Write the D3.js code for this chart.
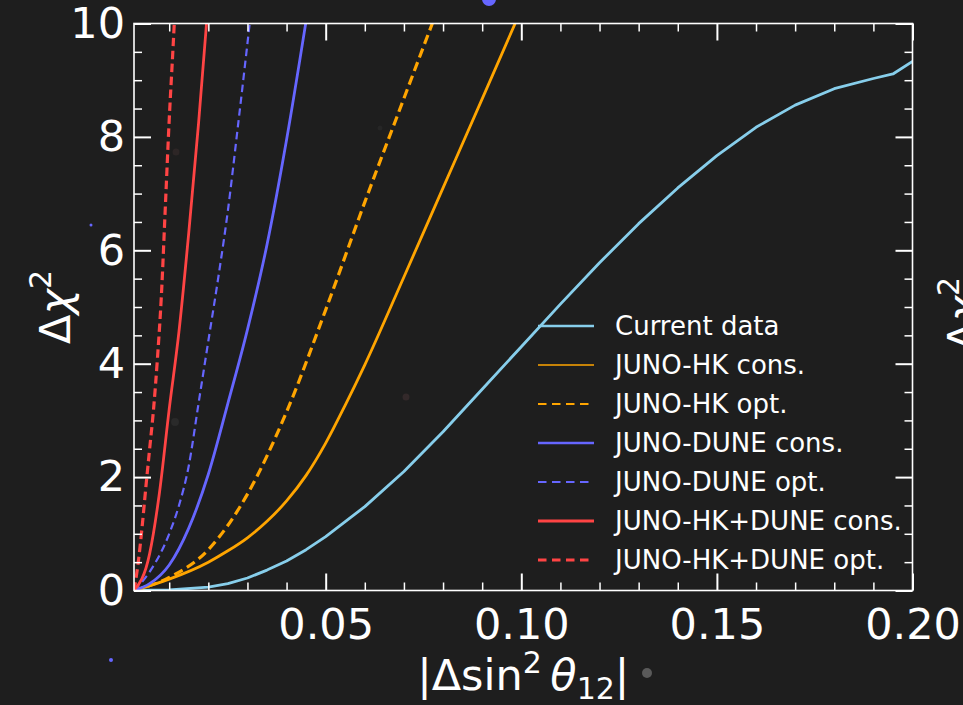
<!DOCTYPE html>
<html>
<head>
<meta charset="utf-8">
<script src="https://cdn.jsdelivr.net/npm/d3@7"></script>
<style>
  html, body { margin: 0; padding: 0; background: #1e1e1e; }
  svg { display: block; }
  text { font-family: "DejaVu Sans", sans-serif; fill: #ffffff; }
</style>
</head>
<body>
<svg id="chart" width="963" height="705"></svg>
<script>
// Δχ² sensitivity curves versus |Δsin²θ12|
const xCurrent = [0.001, 0.01, 0.02, 0.025, 0.03, 0.035, 0.04, 0.045, 0.05, 0.06, 0.07, 0.08, 0.09, 0.10, 0.11, 0.12, 0.13, 0.14, 0.15, 0.16, 0.17, 0.18, 0.19, 0.195, 0.2];
const yCurrent = [0, 0.01, 0.06, 0.12, 0.22, 0.36, 0.52, 0.72, 0.95, 1.48, 2.1, 2.8, 3.55, 4.3, 5.05, 5.78, 6.47, 7.1, 7.67, 8.17, 8.56, 8.85, 9.03, 9.11, 9.33];

const xHKCons = [0.001, 0.01, 0.02, 0.025, 0.03, 0.035, 0.04, 0.045, 0.05, 0.055, 0.06, 0.07, 0.08, 0.09, 0.10];
const yHKCons = [0, 0.2, 0.5, 0.7, 0.93, 1.22, 1.58, 2.03, 2.6, 3.27, 3.98, 5.53, 7.1, 8.67, 10.25];

const xHKOpt = [0.001, 0.01, 0.02, 0.03, 0.04, 0.05, 0.06, 0.07, 0.08];
const yHKOpt = [0, 0.23, 0.72, 1.7, 3.15, 4.95, 6.85, 8.68, 10.5];

const xDUNECons = [0.001, 0.005, 0.01, 0.015, 0.02, 0.025, 0.03, 0.035, 0.04, 0.045];
const yDUNECons = [0, 0.12, 0.45, 1.1, 2.05, 3.3, 4.6, 6.1, 7.95, 10.05];

const xDUNEOpt = [0.001, 0.005, 0.01, 0.0125, 0.015, 0.0175, 0.02, 0.0225, 0.025, 0.0275, 0.03, 0.0325];
const yDUNEOpt = [0, 0.33, 1.0, 1.5, 2.2, 3.3, 4.4, 5.5, 6.7, 8.15, 9.65, 11.2];

const xCombCons = [0.001, 0.005, 0.0075, 0.01, 0.0125, 0.015, 0.0175, 0.02, 0.021];
const yCombCons = [0, 0.65, 1.72, 3.2, 4.57, 6.31, 8.24, 10.4, 11.3];

const xCombOpt = [0.001, 0.002, 0.003, 0.004, 0.005, 0.006, 0.007, 0.008, 0.009, 0.01, 0.011, 0.012];
const yCombOpt = [0, 0.45, 1.07, 1.8, 2.5, 3.2, 4.1, 5.2, 6.75, 8.3, 9.6, 11.0];

const seriesNames = ["Current data", "JUNO-HK cons.", "JUNO-HK opt.", "JUNO-DUNE cons.", "JUNO-DUNE opt.", "JUNO-HK+DUNE cons.", "JUNO-HK+DUNE opt."];
const seriesX = [xCurrent, xHKCons, xHKOpt, xDUNECons, xDUNEOpt, xCombCons, xCombOpt];
const seriesY = [yCurrent, yHKCons, yHKOpt, yDUNECons, yDUNEOpt, yCombCons, yCombOpt];

const xMajorTicks = [0.05, 0.10, 0.15, 0.20];
const xTickLabels = ["0.05", "0.10", "0.15", "0.20"];
const yMajorTicks = [0, 2, 4, 6, 8, 10];
const yTickLabels = ["0", "2", "4", "6", "8", "10"];

// styling per series
const colors = ["#87ceeb", "#ffa500", "#ffa500", "#6666ff", "#6666ff", "#ff4444", "#ff4444"];
const widths = [2.8, 2.8, 3.2, 2.8, 2.2, 2.8, 3.2];
const dashes = [null, null, "9.5,5", null, "7.5,4.5", null, "8.5,4.5"];
const legendWidths = [2.6, 1.6, 2.2, 2.6, 2.2, 3, 3];
// measured curve joined point to point, projections drawn smooth
const curveTypes = [d3.curveLinear, d3.curveMonotoneX, d3.curveMonotoneX, d3.curveMonotoneX, d3.curveMonotoneX, d3.curveMonotoneX, d3.curveMonotoneX];

const svg = d3.select("#chart");
const W = 963, H = 705;
const plot = { left: 134, right: 912.5, top: 23.5, bottom: 590.5 };

svg.append("rect").attr("width", W).attr("height", H).attr("fill", "#1e1e1e");

const x = d3.scaleLinear().domain([0.001, 0.2]).range([plot.left, plot.right]);
const y = d3.scaleLinear().domain([0, 10]).range([plot.bottom, plot.top]);

// faint stray markers around the figure
const strays = [
  { cx: 489, cy: -1, r: 7, c: "#6666ff" },
  { cx: 91, cy: 225, r: 1.5, c: "#6666ff" },
  { cx: 111, cy: 660, r: 2, c: "#6666ff" },
  { cx: 647, cy: 673, r: 5, c: "#5a5a5a" },
  { cx: 406, cy: 397, r: 3.5, c: "#33292a" },
  { cx: 175, cy: 422, r: 4, c: "#2a2a2a" },
  { cx: 176, cy: 152, r: 3.5, c: "#2d2626" },
  { cx: 380, cy: 128, r: 2.5, c: "#262626" }
];
svg.append("g").selectAll("circle").data(strays).join("circle")
  .attr("cx", d => d.cx).attr("cy", d => d.cy).attr("r", d => d.r).attr("fill", d => d.c);

// clip for curves
svg.append("defs").append("clipPath").attr("id", "plotclip")
  .append("rect")
  .attr("x", plot.left).attr("y", plot.top)
  .attr("width", plot.right - plot.left).attr("height", plot.bottom - plot.top);

const curves = svg.append("g").attr("clip-path", "url(#plotclip)");
seriesNames.forEach((name, i) => {
  const pts = seriesX[i].map((v, j) => [v, seriesY[i][j]]);
  const line = d3.line().x(d => x(d[0])).y(d => y(d[1])).curve(curveTypes[i]);
  curves.append("path")
    .datum(pts)
    .attr("d", line)
    .attr("fill", "none")
    .attr("stroke", colors[i])
    .attr("stroke-width", widths[i])
    .attr("stroke-dasharray", dashes[i])
    .attr("stroke-linejoin", "round");
});

// axes with inward ticks on all four sides
const xMinor = d3.range(1, 21).map(k => k / 100).filter(v => Math.abs(v * 20 - Math.round(v * 20)) > 1e-9);
const yMinor = d3.range(1, 20).map(k => k / 2).filter(v => v % 2 !== 0);

function styleAxis(g, majorWidth) {
  g.select(".domain").remove();
  g.selectAll(".tick line").attr("stroke", "#ffffff").attr("stroke-width", majorWidth);
  g.selectAll(".tick text").attr("fill", "#ffffff").style("font-family", "DejaVu Sans").style("font-size", "43px");
}

// bottom
svg.append("g").attr("transform", `translate(0,${plot.bottom})`)
  .call(d3.axisBottom(x).tickValues(xMajorTicks).tickSize(-17).tickPadding(18)
    .tickFormat((d, i) => xTickLabels[i]))
  .call(g => styleAxis(g, 2));
svg.append("g").attr("transform", `translate(0,${plot.bottom})`)
  .call(d3.axisBottom(x).tickValues(xMinor).tickSize(-8).tickFormat(""))
  .call(g => styleAxis(g, 1.5));
// top
svg.append("g").attr("transform", `translate(0,${plot.top})`)
  .call(d3.axisTop(x).tickValues(xMajorTicks).tickSize(-17).tickFormat(""))
  .call(g => styleAxis(g, 2));
svg.append("g").attr("transform", `translate(0,${plot.top})`)
  .call(d3.axisTop(x).tickValues(xMinor).tickSize(-8).tickFormat(""))
  .call(g => styleAxis(g, 1.5));
// left
svg.append("g").attr("transform", `translate(${plot.left},0)`)
  .call(d3.axisLeft(y).tickValues(yMajorTicks).tickSize(-17).tickPadding(9)
    .tickFormat((d, i) => yTickLabels[i]))
  .call(g => styleAxis(g, 2));
svg.append("g").attr("transform", `translate(${plot.left},0)`)
  .call(d3.axisLeft(y).tickValues(yMinor).tickSize(-8).tickFormat(""))
  .call(g => styleAxis(g, 1.5));
// right
svg.append("g").attr("transform", `translate(${plot.right},0)`)
  .call(d3.axisRight(y).tickValues(yMajorTicks).tickSize(-17).tickFormat(""))
  .call(g => styleAxis(g, 2));
svg.append("g").attr("transform", `translate(${plot.right},0)`)
  .call(d3.axisRight(y).tickValues(yMinor).tickSize(-8).tickFormat(""))
  .call(g => styleAxis(g, 1.5));

// frame
svg.append("rect")
  .attr("x", plot.left).attr("y", plot.top)
  .attr("width", plot.right - plot.left).attr("height", plot.bottom - plot.top)
  .attr("fill", "none").attr("stroke", "#ffffff").attr("stroke-width", 1.6);

// legend
const legend = svg.append("g");
seriesNames.forEach((name, i) => {
  const ly = 326 + i * 39;
  legend.append("line")
    .attr("x1", 538).attr("x2", 594).attr("y1", ly).attr("y2", ly)
    .attr("stroke", colors[i]).attr("stroke-width", legendWidths[i])
    .attr("stroke-dasharray", dashes[i] ? "8.5,5.5" : null);
  legend.append("text")
    .attr("x", 615).attr("y", ly).attr("dy", "0.35em")
    .style("font-size", "26px")
    .text(name);
});

// x label: |Δsin² θ12|
const xl = svg.append("text")
  .attr("x", (plot.left + plot.right) / 2).attr("y", 690)
  .attr("text-anchor", "middle")
  .style("font-size", "43px");
xl.append("tspan").text("|Δsin");
xl.append("tspan").attr("dy", -17).style("font-size", "30px").text("2");
xl.append("tspan").attr("dy", 17).text("\u2009");
xl.append("tspan").style("font-style", "italic").text("θ");
xl.append("tspan").attr("dy", 9).style("font-size", "30px").text("12");
xl.append("tspan").attr("dy", -9).text("|");

// y labels: Δχ²
function yLabel(tx, ty) {
  const t = svg.append("text")
    .attr("transform", `translate(${tx},${ty}) rotate(-90)`)
    .attr("text-anchor", "middle")
    .style("font-size", "43px");
  t.append("tspan").text("Δ");
  t.append("tspan").style("font-style", "italic").text("χ");
  t.append("tspan").attr("dy", -19).style("font-size", "30px").text("2");
}
yLabel(70, 307);
yLabel(978, 314);
</script>
</body>
</html>
